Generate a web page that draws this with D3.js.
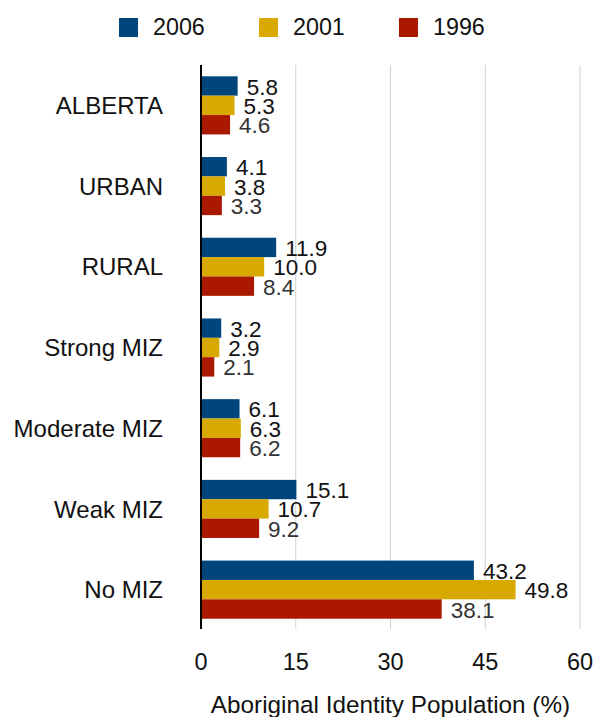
<!DOCTYPE html>
<html>
<head>
<meta charset="utf-8">
<script src="https://cdn.jsdelivr.net/npm/d3@7"></script>
<style>
  body { margin: 0; background: #fff; }
  text { font-family: "Liberation Sans", Arial, sans-serif; }
  .grid line { stroke: #d0d0d0; stroke-width: 1; }
</style>
</head>
<body>
<div id="chart"></div>
<script>
'use strict';
// categories top to bottom
const regions = ["ALBERTA", "URBAN", "RURAL", "Strong MIZ", "Moderate MIZ", "Weak MIZ", "No MIZ"];
const years = ["2006", "2001", "1996"];
// percent values per census year
const vals2006 = [5.8, 4.1, 11.9, 3.2, 6.1, 15.1, 43.2];
const vals2001 = [5.3, 3.8, 10.0, 2.9, 6.3, 10.7, 49.8];
const vals1996 = [4.6, 3.3, 8.4, 2.1, 6.2, 9.2, 38.1];
const xTicks = [0, 15, 30, 45, 60];
const colors = ["#00467d", "#d8a900", "#ab1800"];
const labelColors = ["#111", "#111", "#333"];

const W = 595, H = 717;
const margin = { left: 201, right: 15, top: 65, bottom: 87 };

const svg = d3.select("#chart").append("svg")
    .attr("width", W)
    .attr("height", H);

const x = d3.scaleLinear().domain([0, 60]).range([margin.left, 580]);
const y = d3.scaleBand().domain(regions)
    .range([margin.top, H - margin.bottom])
    .paddingInner(0.28)
    .paddingOuter(0.14);
const ySub = d3.scaleBand().domain(years).range([0, y.bandwidth()]);

const rows = regions.map(function(r, i) {
    return { region: r, values: [vals2006[i], vals2001[i], vals1996[i]] };
});

//vertical gridlines
svg.append("g").attr("class", "grid")
    .selectAll("line")
    .data(xTicks.slice(1))
    .enter().append("line")
    .attr("x1", d => x(d)).attr("x2", d => x(d))
    .attr("y1", margin.top).attr("y2", H - margin.bottom - 1);

//bars
const groups = svg.selectAll(".grp")
    .data(rows)
    .enter().append("g")
    .attr("class", "grp")
    .attr("transform", d => "translate(0," + y(d.region) + ")");

groups.selectAll("rect")
    .data(d => d.values.map((v, j) => ({ year: years[j], v: v, j: j })))
    .enter().append("rect")
    .attr("x", x(0))
    .attr("y", d => ySub(d.year))
    .attr("width", d => x(d.v) - x(0))
    .attr("height", ySub.bandwidth())
    .attr("fill", d => colors[d.j]);

groups.selectAll(".val")
    .data(d => d.values.map((v, j) => ({ year: years[j], v: v, j: j })))
    .enter().append("text")
    .attr("class", "val")
    .attr("x", d => x(d.v) + 9)
    .attr("y", d => ySub(d.year) + ySub.bandwidth() / 2)
    .attr("dy", "0.38em")
    .attr("font-size", 22.5)
    .attr("fill", d => labelColors[d.j])
    .text(d => d.v.toFixed(1));

//zero axis line
svg.append("line")
    .attr("x1", x(0)).attr("x2", x(0))
    .attr("y1", margin.top).attr("y2", H - margin.bottom - 1)
    .attr("stroke", "#000")
    .attr("stroke-width", 2);

//category labels
svg.append("g")
    .selectAll("text")
    .data(regions)
    .enter().append("text")
    .attr("x", 163)
    .attr("y", d => y(d) + y.bandwidth() / 2)
    .attr("dy", "0.36em")
    .attr("text-anchor", "end")
    .attr("font-size", 24)
    .attr("fill", "#111")
    .text(d => d);

//x tick labels
svg.append("g")
    .selectAll("text")
    .data(xTicks)
    .enter().append("text")
    .attr("x", d => x(d))
    .attr("y", 670)
    .attr("text-anchor", "middle")
    .attr("font-size", 23.5)
    .attr("fill", "#111")
    .text(d => d);

//axis title
svg.append("text")
    .attr("x", (x(0) + x(60)) / 2)
    .attr("y", 713)
    .attr("text-anchor", "middle")
    .attr("font-size", 24.3)
    .attr("fill", "#111")
    .text("Aboriginal Identity Population (%)");

//legend
const legend = svg.selectAll(".leg")
    .data(years)
    .enter().append("g")
    .attr("class", "leg")
    .attr("transform", (d, i) => "translate(" + (119 + i * 140) + ",18)");
legend.append("rect")
    .attr("width", 19).attr("height", 19)
    .attr("fill", (d, i) => colors[i]);
legend.append("text")
    .attr("x", 34)
    .attr("y", 16.5)
    .attr("font-size", 23.3)
    .attr("fill", "#111")
    .text(d => d);
</script>
</body>
</html>
